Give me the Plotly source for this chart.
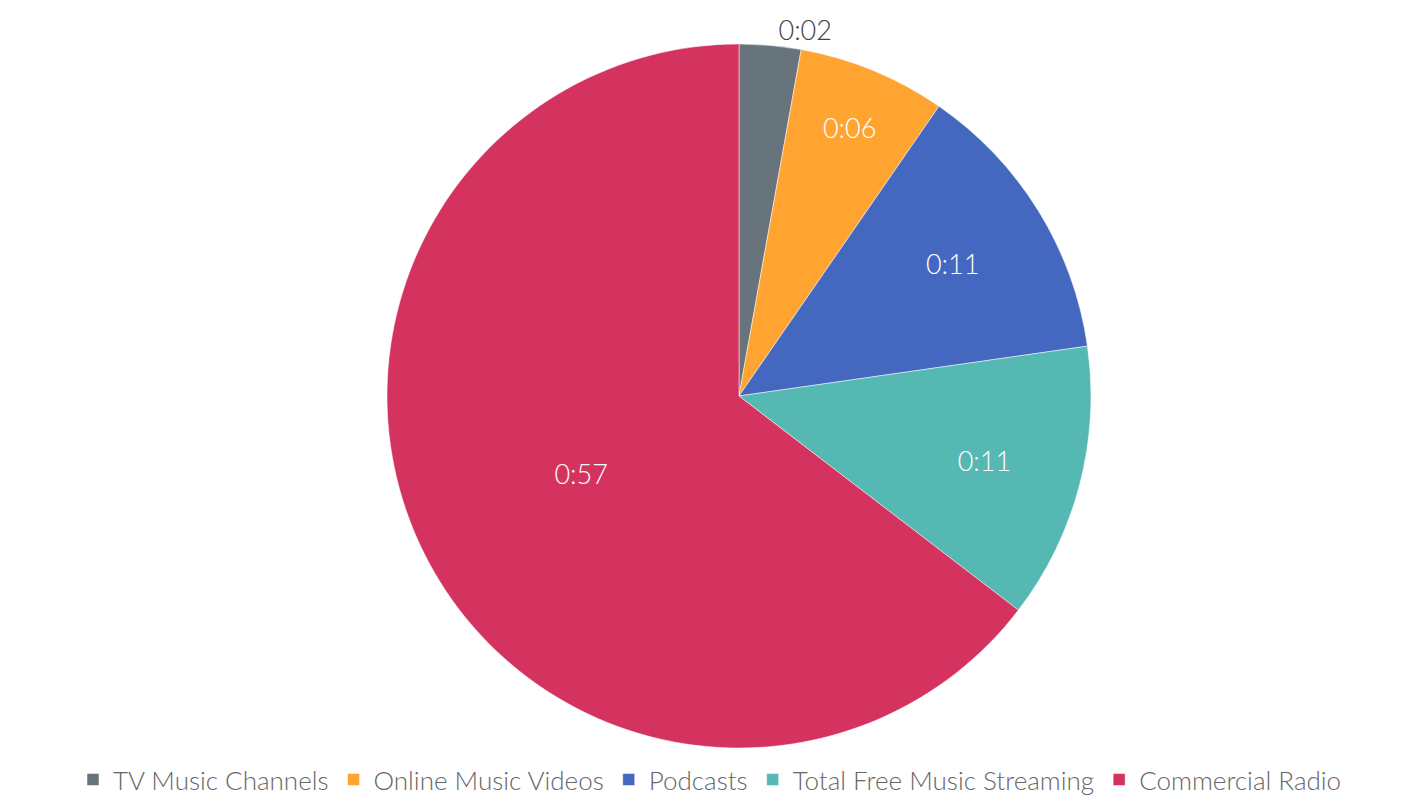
import plotly.graph_objects as go

categories = ["TV Music Channels", "Online Music Videos", "Podcasts",
              "Total Free Music Streaming", "Commercial Radio"]
minutes = [2.5, 6.0, 11.6, 11.2, 57.1]
labels_text = ["0:02", "0:06", "0:11", "0:11", "0:57"]
colors = ["#68747b", "#ffa430", "#4468c0", "#56b8b2", "#d3335e"]

fig = go.Figure(go.Pie(
    labels=categories,
    values=minutes,
    text=labels_text,
    textinfo="text",
    textposition=["outside", "inside", "inside", "inside", "inside"],
    insidetextorientation="horizontal",
    automargin=False,
    textfont=dict(family="Lato", size=27, weight=300,
                  color=["#444444", "white", "white", "white", "white"]),
    marker=dict(colors=colors, line=dict(color="white", width=0.5)),
    sort=False,
    direction="clockwise",
    rotation=0,
    hoverinfo="label+text",
    domain=dict(x=[0.0413, 1.0], y=[0.0, 1.0]),
))

fig.update_layout(
    width=1404, height=794,
    margin=dict(l=0, r=0, t=36, b=54, autoexpand=False),
    paper_bgcolor="white",
    plot_bgcolor="white",
    font=dict(family="Lato", color="#666666"),
    legend=dict(orientation="h", x=0.5, xanchor="center", y=-0.0115, yanchor="top",
                bgcolor="rgba(0,0,0,0)",
                font=dict(family="Lato", size=26, weight=300, color="#666666"),
                itemclick=False),
)

fig.write_html("out.html")
